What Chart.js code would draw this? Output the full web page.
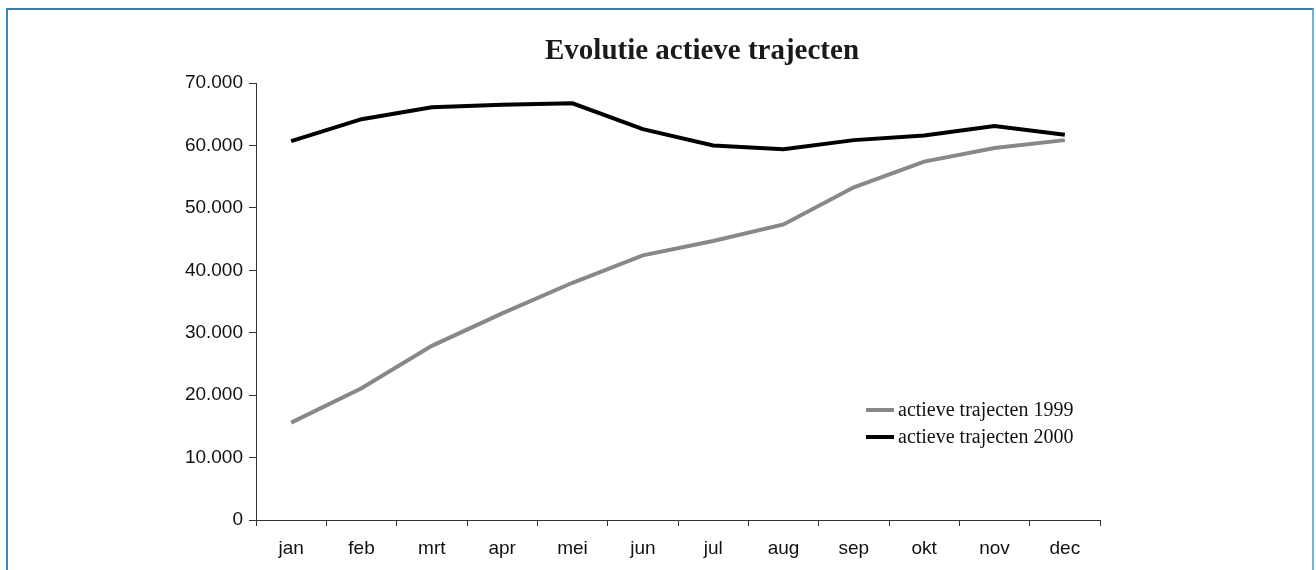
<!DOCTYPE html>
<html>
<head>
<meta charset="utf-8">
<script src="https://cdn.jsdelivr.net/npm/chart.js@4/dist/chart.umd.min.js"></script>
<style>
  html, body { margin: 0; padding: 0; background: #ffffff; }
  #wrap { position: relative; width: 1316px; height: 570px; overflow: hidden; }
  #frame { position: absolute; left: 6px; top: 8px; width: 1304px; height: 700px;
           border-left: 2px solid #3688c0; border-top: 2px solid #2f7fb3; border-right: 2px solid #6fb6d6; }
  canvas { position: absolute; left: 0; top: 0; }
</style>
</head>
<body>
<div id="wrap">
  <div id="frame"></div>
  <canvas id="c" width="1316" height="570"></canvas>
</div>
<script>
const titleText = 'Evolutie actieve trajecten';
const months = ['jan','feb','mrt','apr','mei','jun','jul','aug','sep','okt','nov','dec'];
const series1999Label = 'actieve trajecten 1999';
const series2000Label = 'actieve trajecten 2000';
const series1999 = [15600, 21100, 27900, 33100, 38000, 42400, 44700, 47350, 53300, 57400, 59600, 60850];
const series2000 = [60700, 64200, 66100, 66500, 66750, 62600, 60000, 59400, 60850, 61600, 63100, 61700];
const yTicks = [0, 10000, 20000, 30000, 40000, 50000, 60000, 70000];

function fmt(v) {
  return String(Math.round(v)).replace(/\B(?=(\d{3})+(?!\d))/g, '.');
}

const titlePlugin = {
  id: 'customTitle',
  afterDraw(chart) {
    const ctx = chart.ctx;
    ctx.save();
    ctx.font = 'bold 29px "Liberation Serif", "Times New Roman", serif';
    ctx.fillStyle = '#1a1a1a';
    ctx.textAlign = 'center';
    ctx.textBaseline = 'alphabetic';
    ctx.fillText(titleText, 702, 59);
    ctx.restore();
  }
};

const legendPlugin = {
  id: 'customLegend',
  afterDraw(chart) {
    const ctx = chart.ctx;
    ctx.save();
    ctx.font = '20px "Liberation Serif", "Times New Roman", serif';
    ctx.textBaseline = 'middle';
    ctx.textAlign = 'left';
    chart.data.datasets.forEach((ds, i) => {
      const y = 410 + i * 27;
      ctx.strokeStyle = ds.borderColor;
      ctx.lineWidth = 4;
      ctx.beginPath();
      ctx.moveTo(866, y);
      ctx.lineTo(894, y);
      ctx.stroke();
      ctx.fillStyle = '#111111';
      ctx.fillText(ds.label, 898, y + 1);
    });
    ctx.restore();
  }
};

new Chart(document.getElementById('c'), {
  type: 'line',
  data: {
    labels: months,
    datasets: [
      { label: series1999Label, data: series1999, borderColor: '#888888', backgroundColor: '#888888',
        borderWidth: 4, pointRadius: 0, tension: 0, fill: false },
      { label: series2000Label, data: series2000, borderColor: '#000000', backgroundColor: '#000000',
        borderWidth: 4, pointRadius: 0, tension: 0, fill: false }
    ]
  },
  options: {
    responsive: false,
    animation: false,
    layout: { padding: { left: 156, right: 216, top: 83, bottom: 0 } },
    plugins: { legend: { display: false }, title: { display: false }, tooltip: { enabled: false } },
    scales: {
      x: {
        type: 'category',
        offset: true,
        grid: { display: true, offset: true, drawOnChartArea: false, drawTicks: true, tickLength: 6, color: '#333333', lineWidth: 1 },
        border: { display: true, color: '#333333', width: 1 },
        ticks: { color: '#111111', font: { family: '"Liberation Sans", Arial, sans-serif', size: 19 }, padding: 11, maxRotation: 0 },
        afterFit(scale) { scale.height = 50; }
      },
      y: {
        min: 0, max: 70000,
        afterBuildTicks(scale) { scale.ticks = yTicks.map(v => ({ value: v })); },
        grid: { display: true, drawOnChartArea: false, drawTicks: true, tickLength: 7, color: '#333333', lineWidth: 1 },
        border: { display: true, color: '#333333', width: 1 },
        ticks: { color: '#111111', font: { family: '"Liberation Sans", Arial, sans-serif', size: 19 }, padding: 6,
                 callback: (v) => fmt(v) },
        afterFit(scale) { scale.width = 100; }
      }
    }
  },
  plugins: [titlePlugin, legendPlugin]
});
</script>
</body>
</html>
